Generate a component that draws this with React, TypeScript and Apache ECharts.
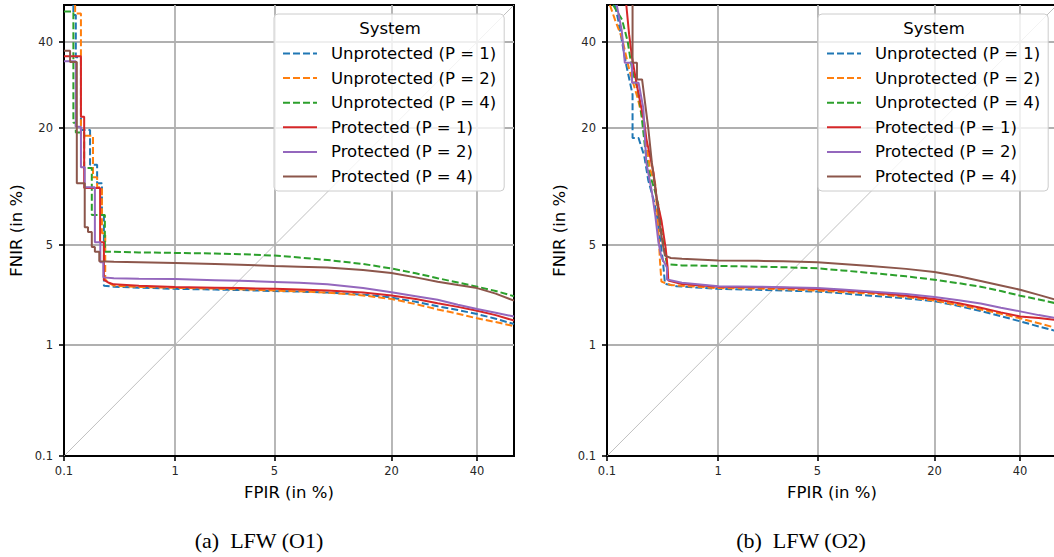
import React, { useEffect, useRef } from "react";
import * as echarts from "echarts";

// ---- axis ticks (percent) ----
const TICK_VALUES = [0.1, 1, 5, 20, 40];
const TICK_LABELS = ["0.1", "1", "5", "20", "40"];
const AXIS_MIN_PCT = 0.1;
const AXIS_MAX_PCT = 50;

const SERIES_NAMES = [
  "Unprotected (P = 1)",
  "Unprotected (P = 2)",
  "Unprotected (P = 4)",
  "Protected (P = 1)",
  "Protected (P = 2)",
  "Protected (P = 4)",
];
const SERIES_COLORS = ["#1f77b4", "#ff7f0e", "#2ca02c", "#d62728", "#9467bd", "#8c564b"];
const SERIES_DASHED = [true, true, true, false, false, false];

// ---- panel (a) LFW (O1): [FPIR %, FNIR %] ----
const a_unprot1 = [[0.124, 50], [0.124, 47.3], [0.131, 47.3], [0.131, 36], [0.147, 36], [0.147, 19.6], [0.18, 19.6], [0.18, 13.7], [0.21, 13.7], [0.21, 11.1], [0.233, 11.1], [0.233, 7.7], [0.243, 7.7], [0.243, 2.72], [0.3, 2.68], [0.5, 2.64], [1, 2.59], [2, 2.56], [3, 2.54], [5, 2.5], [7, 2.48], [10, 2.44], [15, 2.36], [20, 2.25], [25, 2.1], [30, 1.95], [35, 1.83], [40, 1.71], [45, 1.58], [50, 1.44]];
const a_unprot2 = [[0.129, 50], [0.129, 47.7], [0.147, 47.7], [0.147, 18.5], [0.192, 18.5], [0.192, 11.9], [0.21, 11.9], [0.21, 10.6], [0.233, 10.6], [0.233, 5.9], [0.25, 5.9], [0.25, 3.0], [0.28, 2.8], [0.3, 2.72], [0.5, 2.67], [1, 2.63], [2, 2.6], [3, 2.57], [5, 2.52], [7, 2.49], [10, 2.44], [15, 2.33], [20, 2.2], [25, 2.02], [30, 1.85], [35, 1.72], [40, 1.59], [45, 1.49], [50, 1.39]];
const a_unprot4 = [[0.1, 48.2], [0.124, 48.2], [0.124, 21], [0.131, 21], [0.131, 19.1], [0.158, 19.1], [0.158, 13.2], [0.187, 13.2], [0.187, 7.5], [0.248, 7.5], [0.248, 4.55], [0.5, 4.5], [1, 4.47], [2, 4.43], [3, 4.39], [5, 4.3], [7, 4.18], [10, 4.03], [15, 3.8], [20, 3.55], [25, 3.3], [30, 3.06], [35, 2.86], [40, 2.68], [45, 2.5], [50, 2.3]];
const a_prot1 = [[0.1, 36.3], [0.147, 36.3], [0.147, 22.2], [0.158, 22.2], [0.158, 10.5], [0.224, 10.5], [0.224, 5.2], [0.243, 5.2], [0.243, 2.98], [0.27, 2.85], [0.3, 2.78], [0.5, 2.72], [1, 2.67], [2, 2.64], [3, 2.62], [5, 2.59], [7, 2.56], [10, 2.52], [15, 2.44], [20, 2.33], [25, 2.2], [30, 2.05], [35, 1.93], [40, 1.81], [45, 1.68], [50, 1.53]];
const a_prot2 = [[0.1, 35], [0.131, 35], [0.131, 20.2], [0.147, 20.2], [0.147, 13.3], [0.16, 13.3], [0.16, 10.6], [0.2, 10.6], [0.2, 5.2], [0.225, 5.2], [0.225, 3.9], [0.24, 3.9], [0.24, 3.1], [0.3, 3.06], [0.5, 3.04], [1, 3.02], [2, 2.97], [3, 2.94], [5, 2.89], [7, 2.85], [10, 2.78], [15, 2.62], [20, 2.45], [25, 2.3], [30, 2.17], [35, 2.0], [40, 1.86], [45, 1.75], [50, 1.64]];
const a_prot4 = [[0.1, 37.7], [0.115, 37.7], [0.115, 34.8], [0.134, 34.8], [0.134, 11.1], [0.16, 11.1], [0.16, 6.4], [0.172, 6.4], [0.172, 6.0], [0.187, 6.0], [0.187, 4.87], [0.2, 4.87], [0.2, 4.55], [0.22, 4.55], [0.22, 3.95], [0.3, 3.92], [0.5, 3.9], [1, 3.86], [2, 3.8], [3, 3.76], [5, 3.69], [7, 3.65], [10, 3.6], [15, 3.47], [20, 3.32], [25, 3.1], [30, 2.9], [35, 2.75], [40, 2.62], [45, 2.4], [50, 2.14]];

// ---- panel (b) LFW (O2): [FPIR %, FNIR %] ----
const b_unprot1 = [[0.12, 50], [0.129, 46], [0.141, 40], [0.155, 34], [0.178, 27], [0.178, 18.1], [0.203, 18.1], [0.23, 15], [0.25, 11.5], [0.28, 9.1], [0.3, 7.5], [0.32, 5.5], [0.34, 4], [0.355, 2.8], [0.45, 2.7], [1, 2.59], [2, 2.55], [3, 2.52], [5, 2.48], [7, 2.41], [10, 2.32], [15, 2.22], [20, 2.12], [25, 1.96], [30, 1.8], [35, 1.65], [40, 1.51], [45, 1.38], [50, 1.27]];
const b_unprot2 = [[0.107, 50], [0.12, 46], [0.141, 41], [0.165, 33], [0.2, 26], [0.22, 22], [0.25, 15], [0.26, 13], [0.29, 11], [0.31, 6], [0.32, 4], [0.33, 2.9], [0.4, 2.75], [1, 2.62], [2, 2.6], [3, 2.57], [5, 2.52], [7, 2.46], [10, 2.4], [15, 2.27], [20, 2.14], [25, 1.99], [30, 1.85], [35, 1.72], [40, 1.59], [45, 1.46], [50, 1.34]];
const b_unprot4 = [[0.115, 50], [0.141, 46], [0.16, 40], [0.176, 33], [0.2, 28], [0.215, 23], [0.235, 16], [0.25, 13], [0.29, 10], [0.31, 8.5], [0.33, 6], [0.36, 4.2], [0.37, 3.78], [0.5, 3.72], [1, 3.69], [2, 3.65], [3, 3.62], [5, 3.56], [7, 3.45], [10, 3.32], [15, 3.15], [20, 2.99], [25, 2.83], [30, 2.68], [35, 2.5], [40, 2.32], [45, 2.18], [50, 2.04]];
const b_prot1 = [[0.155, 50], [0.165, 42], [0.176, 36], [0.196, 29], [0.23, 21], [0.24, 18], [0.28, 12.5], [0.3, 9.1], [0.33, 7], [0.36, 4.8], [0.375, 3.6], [0.38, 2.95], [0.5, 2.8], [1, 2.68], [2, 2.66], [3, 2.63], [5, 2.58], [7, 2.52], [10, 2.45], [15, 2.32], [20, 2.2], [25, 2.05], [30, 1.9], [35, 1.76], [40, 1.64], [45, 1.6], [50, 1.54]];
const b_prot2 = [[0.125, 50], [0.14, 43], [0.15, 34.6], [0.176, 34.6], [0.176, 29.7], [0.203, 29.7], [0.225, 24], [0.24, 14], [0.27, 10], [0.29, 7.5], [0.31, 5.2], [0.33, 4.2], [0.37, 3.6], [0.37, 3.0], [0.5, 2.85], [1, 2.7], [2, 2.68], [3, 2.66], [5, 2.62], [7, 2.56], [10, 2.48], [15, 2.38], [20, 2.27], [25, 2.15], [30, 2.04], [35, 1.9], [40, 1.79], [45, 1.68], [50, 1.59]];
const b_prot4 = [[0.178, 50], [0.178, 34.6], [0.196, 34.6], [0.196, 30.5], [0.219, 30.5], [0.25, 20], [0.27, 14], [0.3, 9.1], [0.32, 6.5], [0.34, 5], [0.355, 4.3], [0.4, 4.15], [0.5, 4.1], [1, 4.0], [2, 3.98], [3, 3.95], [5, 3.9], [7, 3.8], [10, 3.69], [15, 3.53], [20, 3.37], [25, 3.15], [30, 2.93], [35, 2.73], [40, 2.55], [45, 2.35], [50, 2.16]];

const PANEL_A = [a_unprot1, a_unprot2, a_unprot4, a_prot1, a_prot2, a_prot4];
const PANEL_B = [b_unprot1, b_unprot2, b_unprot4, b_prot1, b_prot2, b_prot4];
const CAPTIONS = ["(a)  LFW (O1)", "(b)  LFW (O2)"];

// inverse standard normal CDF (Acklam)
function probit(p: number): number {
  const a = [-3.969683028665376e1, 2.209460984245205e2, -2.759285104469687e2, 1.38357751867269e2, -3.066479806614716e1, 2.506628277459239];
  const b = [-5.447609879822406e1, 1.615858368580409e2, -1.556989798598866e2, 6.680131188771972e1, -1.328068155288572e1];
  const c = [-7.784894002430293e-3, -3.223964580411365e-1, -2.400758277161838, -2.549732539343734, 4.374664141464968, 2.938163982698783];
  const d = [7.784695709041462e-3, 3.224671290700398e-1, 2.445134137142996, 3.754408661907416];
  const plow = 0.02425;
  if (p < plow) {
    const q = Math.sqrt(-2 * Math.log(p));
    return (((((c[0] * q + c[1]) * q + c[2]) * q + c[3]) * q + c[4]) * q + c[5]) / ((((d[0] * q + d[1]) * q + d[2]) * q + d[3]) * q + 1);
  }
  if (p <= 1 - plow) {
    const q = p - 0.5;
    const r = q * q;
    return ((((((a[0] * r + a[1]) * r + a[2]) * r + a[3]) * r + a[4]) * r + a[5]) * q) / (((((b[0] * r + b[1]) * r + b[2]) * r + b[3]) * r + b[4]) * r + 1);
  }
  const q = Math.sqrt(-2 * Math.log(1 - p));
  return -(((((c[0] * q + c[1]) * q + c[2]) * q + c[3]) * q + c[4]) * q + c[5]) / ((((d[0] * q + d[1]) * q + d[2]) * q + d[3]) * q + 1);
}
const toAxis = (pct: number) => probit(pct / 100);

const AX_MIN = toAxis(AXIS_MIN_PCT);
const AX_MAX = toAxis(AXIS_MAX_PCT);
const TICK_POS = TICK_VALUES.map(toAxis);
const fmt = (v: number) => {
  let best = 0;
  for (let i = 1; i < TICK_POS.length; i++) if (Math.abs(TICK_POS[i] - v) < Math.abs(TICK_POS[best] - v)) best = i;
  return TICK_LABELS[best];
};

const FONT = "DejaVu Sans";

function makeAxis(gridIndex: number, isX: boolean) {
  return {
    type: "value",
    gridIndex,
    min: AX_MIN,
    max: AX_MAX,
    name: isX ? "FPIR (in %)" : "FNIR (in %)",
    nameLocation: "middle",
    nameGap: isX ? 28 : 39,
    nameTextStyle: { fontFamily: FONT, fontSize: 16.5, color: "#000" },
    axisLine: { show: true, onZero: false, lineStyle: { color: "#000", width: 2 } },
    axisTick: { show: true, inside: false, length: 5, customValues: TICK_POS, lineStyle: { color: "#000", width: 1.6 } },
    axisLabel: { customValues: TICK_POS, formatter: fmt, fontFamily: FONT, fontSize: 11.5, color: "#262626", margin: isX ? 9 : 11, hideOverlap: false },
    splitLine: { show: true, lineStyle: { color: "#b0b0b0", width: 1.8 } },
  };
}

export default function App() {
  const ref = useRef<HTMLDivElement>(null);
  useEffect(() => {
    if (!ref.current) return;
    const chart = echarts.init(ref.current, undefined, { renderer: "svg" });
    const gridLefts = [64, 607];
    const legendLefts = [274, 818];
    const titleXs = [390, 934];
    const captionXs = [259, 801];
    const panels = [PANEL_A, PANEL_B];

    const series: any[] = [];
    panels.forEach((panel, pi) => {
      series.push({
        type: "line",
        xAxisIndex: pi,
        yAxisIndex: pi,
        data: [[AX_MIN, AX_MIN], [AX_MAX, AX_MAX]],
        symbol: "none",
        silent: true,
        lineStyle: { color: "#b0b0b0", width: 0.8 },
        z: 1,
      });
      panel.forEach((pts, si) => {
        series.push({
          type: "line",
          name: SERIES_NAMES[si],
          xAxisIndex: pi,
          yAxisIndex: pi,
          data: pts.map(([x, y]) => [toAxis(x), toAxis(y)]),
          symbol: "none",
          showSymbol: false,
          clip: true,
          color: SERIES_COLORS[si],
          lineStyle: { color: SERIES_COLORS[si], width: 2, type: SERIES_DASHED[si] ? [7, 3] : "solid" },
          itemStyle: { color: SERIES_COLORS[si] },
          z: 3,
        });
      });
    });

    const option: any = {
      animation: false,
      grid: gridLefts.map((l) => ({ left: l, top: 5, width: 450, height: 451, show: true, borderColor: "#000", borderWidth: 2, backgroundColor: "transparent" })),
      xAxis: [makeAxis(0, true), makeAxis(1, true)],
      yAxis: [makeAxis(0, false), makeAxis(1, false)],
      legend: legendLefts.map((l) => ({
        left: l,
        top: 14,
        orient: "vertical",
        data: SERIES_NAMES,
        selectedMode: false,
        itemWidth: 34,
        itemHeight: 16,
        itemGap: 7.6,
        padding: [31, 8, 6, 8],
        backgroundColor: "rgba(255,255,255,0.8)",
        borderColor: "#cccccc",
        borderWidth: 1,
        borderRadius: 4,
        itemStyle: { opacity: 0, borderWidth: 0 },
        lineStyle: { opacity: 1 },
        textStyle: { fontFamily: FONT, fontSize: 16.5, color: "#000", padding: [0, 0, 0, 9] },
      })),
      graphic: [
        ...titleXs.map((x) => ({
          type: "text",
          x,
          y: 28,
          z: 100,
          style: { text: "System", fontFamily: FONT, fontSize: 16.5, fill: "#000", textAlign: "center", textVerticalAlign: "middle" },
        })),
        ...captionXs.map((x, i) => ({
          type: "text",
          x,
          y: 540,
          z: 100,
          style: { text: CAPTIONS[i], fontFamily: "Liberation Serif", fontSize: 22, fill: "#000", textAlign: "center", textVerticalAlign: "middle" },
        })),
      ],
      series,
    };
    chart.setOption(option);
    return () => chart.dispose();
  }, []);
  return (
    <div style={{ position: "fixed", left: 0, top: 0, width: 1054, height: 557, overflow: "hidden", background: "#fff" }}>
      <div ref={ref} style={{ width: 1062, height: 557 }} />
    </div>
  );
}
